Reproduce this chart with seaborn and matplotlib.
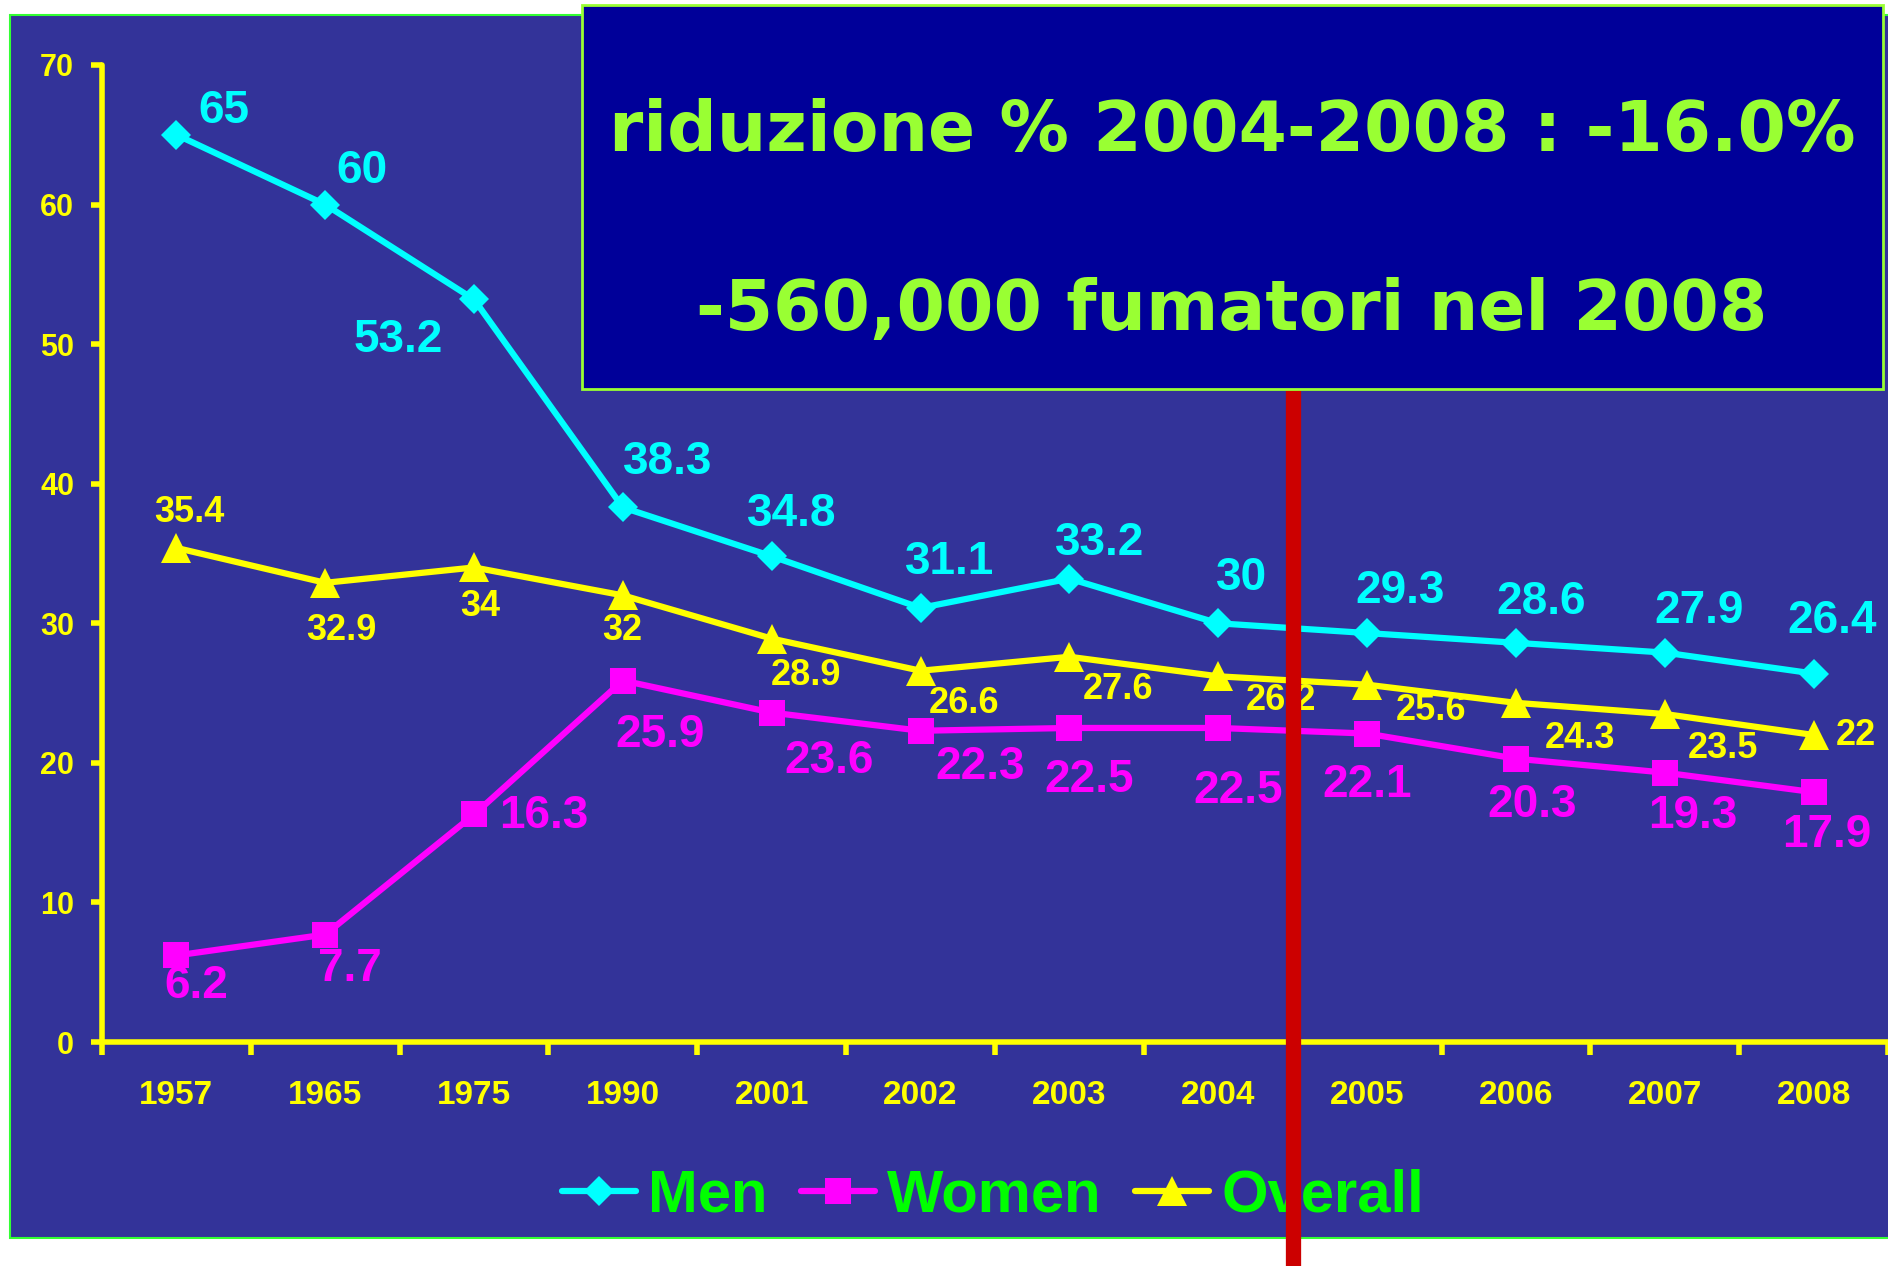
import matplotlib
matplotlib.use("Agg")
import matplotlib.pyplot as plt
import numpy as np
import pandas as pd
import seaborn as sns
from matplotlib.patches import Rectangle

years = ['1957', '1965', '1975', '1990', '2001', '2002',
         '2003', '2004', '2005', '2006', '2007', '2008']
men = [65, 60, 53.2, 38.3, 34.8, 31.1, 33.2, 30, 29.3, 28.6, 27.9, 26.4]
women = [6.2, 7.7, 16.3, 25.9, 23.6, 22.3, 22.5, 22.5, 22.1, 20.3, 19.3, 17.9]
overall = [35.4, 32.9, 34, 32, 28.9, 26.6, 27.6, 26.2, 25.6, 24.3, 23.5, 22]

box_line1 = 'riduzione % 2004-2008 : -16.0%'
box_line2 = '-560,000 fumatori nel 2008'

# label offsets in pixels (dx, dy), picked by eye from the slide
men_off = [(47, 24), (37, 34), (-76, -41), (45, 45), (20, 42), (29, 46),
           (30, 36), (23, 45), (33, 42), (25, 41), (34, 42), (19, 53)]
women_off = [(20, -31), (25, -34), (70, -2), (37, -54), (57, -48), (60, -36),
             (20, -52), (20, -63), (0, -51), (16, -46), (28, -43), (13, -43)]
overall_off = [(13, 35), (16, -48), (6, -39), (-1, -35), (34, -37), (43, -33),
               (49, -33), (63, -24), (64, -26), (64, -36), (58, -34), (42, -1)]

BG = '#333399'
YEL = '#FFFF00'
CYAN = '#00FFFF'
MAG = '#FF00FF'
LIME = '#00FF00'

sns.set_style('white')
plt.rcParams['font.family'] = ['Liberation Sans', 'DejaVu Sans']
plt.rcParams['font.weight'] = 'bold'

W, H = 1888, 1266
fig = plt.figure(figsize=(W / 100, H / 100), dpi=100)
fig.patch.set_facecolor('white')

# slide background
fig.patches.append(Rectangle((10 / W, 1 - 1238 / H), 1.0, (1238 - 15) / H,
                             transform=fig.transFigure, facecolor=BG,
                             edgecolor='#33FF33', lw=1.5, zorder=-1))

ax_l, ax_b = 102 / W, 1 - 1042 / H
ax_w, ax_h = 1786 / W, (1042 - 65) / H
ax = fig.add_axes([ax_l, ax_b, ax_w, ax_h])
ax.set_facecolor('none')

x = np.arange(len(years))
df = pd.DataFrame({'x': x, 'Men': men, 'Women': women, 'Overall': overall})

series = [('Men', CYAN, 'D', 15.5, men_off, 33),
          ('Women', MAG, 's', 19, women_off, 33),
          ('Overall', YEL, '^', 21, overall_off, 26)]

for name, col, mk, ms, offs, fs in series:
    sns.lineplot(data=df, x='x', y=name, ax=ax, color=col, lw=4.5, marker=mk,
                 markersize=ms, mec=col, mew=0, label=name, zorder=3)
    for xi, v, (dx, dy) in zip(x, df[name], offs):
        ax.annotate(f'{v:g}', (xi, v), xytext=(dx, dy), textcoords='offset pixels',
                    ha='center', va='center', color=col, fontsize=fs,
                    fontweight='bold', zorder=4)

ax.set_xlim(-0.5, len(years) - 0.5)
ax.set_ylim(0, 70)
ax.set_xlabel('')
ax.set_ylabel('')

for s in ['top', 'right']:
    ax.spines[s].set_visible(False)
for s in ['left', 'bottom']:
    ax.spines[s].set_color(YEL)
    ax.spines[s].set_linewidth(4)
    ax.spines[s].set_capstyle('round')

ax.set_yticks(range(0, 71, 10))
ax.tick_params(axis='y', colors=YEL, length=8, width=4, pad=12, labelsize=22,
               direction='out', left=True)
ax.set_xticks(x)
ax.set_xticklabels(years)
ax.tick_params(axis='x', which='major', colors=YEL, length=0, pad=27, labelsize=24)
ax.set_xticks(np.arange(-0.5, len(years), 1), minor=True)
ax.tick_params(axis='x', which='minor', colors=YEL, length=9, width=4,
               direction='out', bottom=True)
for lab in ax.get_xticklabels() + ax.get_yticklabels():
    lab.set_fontweight('bold')

leg = ax.legend(loc='center', bbox_to_anchor=(993 / W, 70 / H),
                bbox_transform=fig.transFigure, ncol=3, frameon=False,
                prop={'size': 43, 'weight': 'bold'}, labelcolor=LIME,
                handlelength=1.25, handletextpad=0.2, columnspacing=0.55,
                numpoints=1)

# text box at the top right
box_b, box_t = 1 - 389 / H, 1 - 5 / H
fig.patches.append(Rectangle((582 / W, box_b), (1883 - 582) / W, box_t - box_b,
                             transform=fig.transFigure, facecolor='#000099',
                             edgecolor='#99FF33', lw=2, zorder=1))
fig.text(1232 / W, 1 - 132 / H, box_line1, ha='center', va='center',
         color='#99FF33', fontsize=50, fontweight='bold', family='DejaVu Sans', zorder=2)
fig.text(1232 / W, 1 - 311 / H, box_line2, ha='center', va='center',
         color='#99FF33', fontsize=50, fontweight='bold', family='DejaVu Sans', zorder=2)

# red divider between 2004 and 2005
ymax = (box_b - ax_b) / ax_h
ymin = -ax_b / ax_h
ax.axvline(7.5, ymin=ymin, ymax=ymax, color='#CC0000', lw=11, clip_on=False, zorder=10)

fig.savefig('out.png', dpi=100)
